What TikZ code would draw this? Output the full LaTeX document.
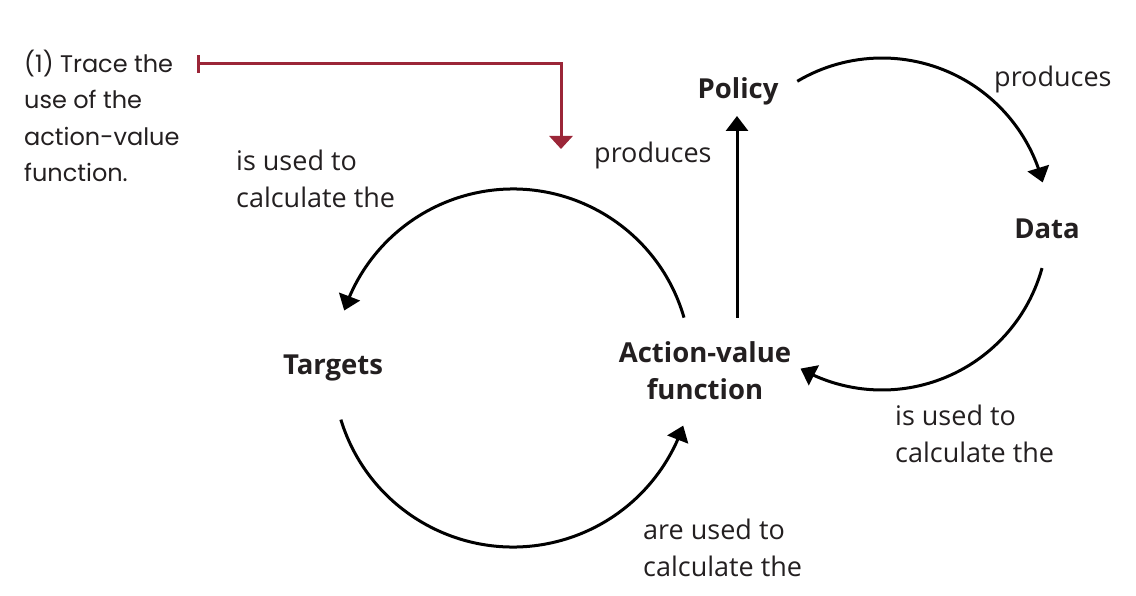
\documentclass[tikz,border=0pt]{standalone}
\usepackage{fontspec}
\setmainfont{Open Sans}
\newfontfamily\handfont{Poppins}
\usetikzlibrary{arrows.meta,bending,calc}
\definecolor{annred}{RGB}{155,38,56}
\definecolor{inkblack}{RGB}{0,0,0}
\definecolor{txtgray}{RGB}{35,31,32}
\begin{document}
\begin{tikzpicture}[x=1pt,y=-1pt,
  arr/.style={line width=3pt,draw=inkblack,-{Triangle[length=15pt,width=22pt,flex]}},
  concept/.style={font=\fontsize{27.5}{36}\selectfont\bfseries,text=txtgray,inner sep=0pt,align=center},
  lbl/.style={font=\fontsize{27}{37}\selectfont,text=txtgray,inner sep=0pt,align=left,anchor=base west},
  note/.style={font=\handfont\fontsize{24}{36.5}\selectfont,text=txtgray,inner sep=0pt,align=left,anchor=base west},
  redline/.style={line width=3pt,draw=annred,{Bar[width=18pt,line width=3pt]}-{Triangle[length=13pt,width=23pt]}}]
\useasboundingbox (0,0) rectangle (1136,596);
% concept nodes (base anchor = baseline of last line)
\node[concept,anchor=base] (policy) at (738,99) {Policy};
\node[concept,anchor=base] (data) at (1047,239) {Data};
\node[concept,anchor=base] (targets) at (333,374) {Targets};
\node[concept,anchor=base] (av) at (705,399) {Action-value\\function};
% labels
\node[lbl] (l1) at (994,87) {produces};
\node[lbl] (l2) at (594,163) {produces};
\node[lbl] (l3) at (236,208) {is used to\\calculate the};
\node[lbl] (l4) at (895,462) {is used to\\calculate the};
\node[lbl] (l5) at (643,576) {are used to\\calculate the};
% annotation
\node[note] (ann) at (24,182) {(1) Trace the\\use of the\\action-value\\function.};
\coordinate (annstart) at (197,64);
\coordinate (annbend) at (561,64);
\coordinate (anntip) at (561,149);
\draw[redline] (annstart) -- (annbend) -- (anntip);
% circle centres
\coordinate (rc) at (882,224);
\coordinate (lc) at (513,367);
% policy -> data
\coordinate (pd) at ($(rc)+(-120.7:166)$);
\draw[arr] (pd) arc[start angle=-120.7,end angle=-14.5,radius=166];
% data -> action-value
\coordinate (da) at ($(rc)+(15.4:166)$);
\draw[arr] (da) arc[start angle=15.4,end angle=119.4,radius=166];
% action-value -> policy
\coordinate (avtop) at (737,318);
\coordinate (polbot) at (737,116);
\draw[arr] (avtop) -- (polbot);
% action-value -> targets
\coordinate (at) at ($(lc)+(-16.1:178)$);
\draw[arr] (at) arc[start angle=-16.1,end angle=-161.5,radius=178];
% targets -> action-value
\coordinate (ta) at ($(lc)+(163:180)$);
\draw[arr] (ta) arc[start angle=163,end angle=19,radius=180];
\end{tikzpicture}
\end{document}
